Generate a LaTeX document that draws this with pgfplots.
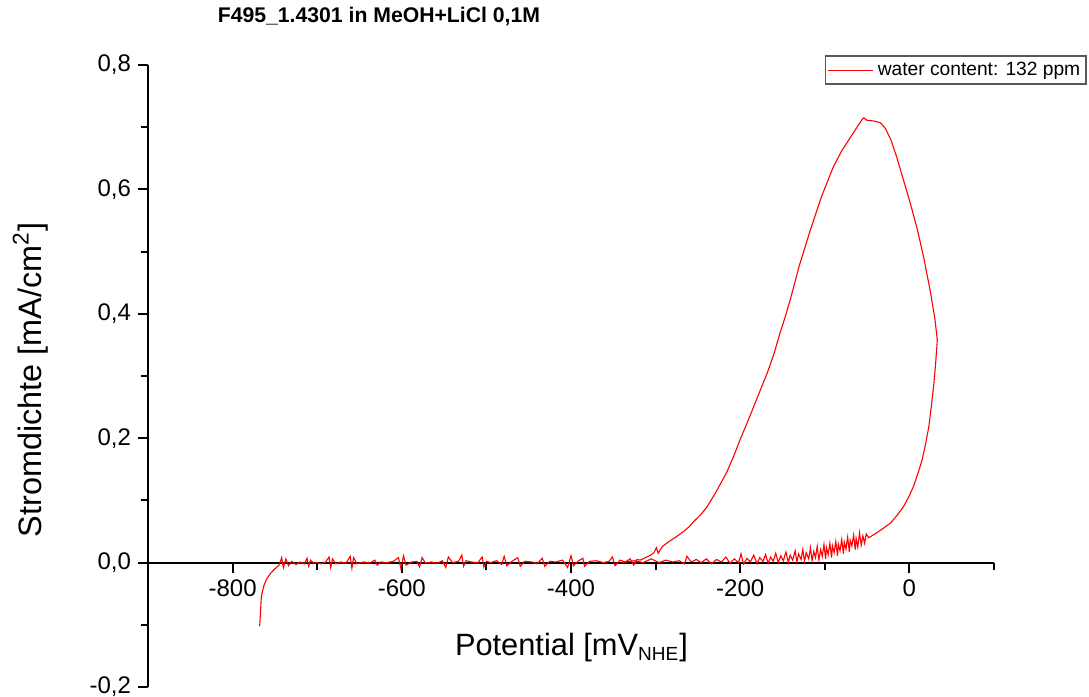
\documentclass[border=0pt]{standalone}
\usepackage{fontspec}
\setmainfont{Liberation Sans}
\usepackage{pgfplots}
\pgfplotsset{compat=1.18}
\pgfplotstableread{
x y
-768 -0.102
-767 -0.080
-766 -0.054
-763 -0.037
-760 -0.027
-755 -0.017
-750 -0.010
-745 -0.004
-742 0.008
-740 -0.008
-737 0.006
-734 -0.005
-730 0.002
-725 -0.003
-720 0.001
-715 -0.002
-712 0.007
-710 -0.006
-708 0.004
-704 -0.001
-700 0.000
-695 -0.002
-690 0.001
-686 0.009
-684 -0.008
-682 0.006
-678 -0.002
-672 0.001
-666 -0.001
-661 0.010
-659 -0.009
-657 0.008
-653 -0.002
-645 0.001
-638 -0.001
-632 0.004
-629 -0.004
-625 0.001
-618 0.000
-610 0.002
-604 0.008
-601 -0.010
-598 0.011
-595 -0.004
-588 0.001
-582 0.002
-579 -0.007
-576 0.008
-572 -0.001
-565 0.001
-558 -0.001
-552 0.003
-548 -0.008
-545 0.009
-540 0.000
-533 0.002
-529 0.012
-527 -0.006
-524 0.003
-518 0.001
-510 0.000
-505 0.009
-503 -0.007
-500 0.002
-495 0.000
-488 0.003
-482 -0.003
-479 0.010
-476 -0.005
-470 0.002
-463 0.008
-460 -0.006
-455 0.002
-446 0.001
-440 -0.002
-434 0.007
-431 -0.006
-425 0.002
-418 0.001
-410 0.004
-404 -0.008
-400 0.011
-397 -0.005
-392 0.002
-386 0.007
-384 -0.006
-378 0.002
-370 0.003
-362 0.000
-355 0.002
-351 0.009
-348 -0.005
-342 0.004
-336 0.001
-330 0.006
-326 -0.004
-322 0.005
-318 0.004
-312 0.008
-306 0.012
-302 0.016
-299 0.024
-297 0.015
-292 0.026
-283 0.035
-275 0.042
-267 0.050
-260 0.058
-255 0.066
-246 0.078
-239 0.090
-228 0.115
-216 0.145
-208 0.170
-200 0.198
-192 0.224
-184 0.251
-176 0.278
-168 0.305
-160 0.336
-153 0.369
-147 0.394
-141 0.422
-130 0.478
-117 0.535
-104 0.588
-90 0.636
-80 0.662
-70 0.683
-62 0.700
-56 0.712
-54 0.715
-50 0.711
-42 0.710
-34 0.707
-28 0.697
-22 0.680
-15 0.652
-7 0.615
1 0.578
9.5 0.535
17 0.490
25 0.434
30 0.393
33 0.358
31 0.320
29 0.289
26 0.252
23 0.219
19 0.190
15 0.165
10 0.143
5 0.123
-1 0.105
-7 0.090
-14 0.077
-22 0.064
-32 0.054
-42 0.045
-48 0.040
-51 0.046
-53 0.031
-55 0.043
-57 0.028
-59 0.048
-61 0.025
-63 0.039
-64 0.021
-66 0.044
-68 0.027
-70 0.036
-71 0.017
-73 0.041
-75 0.022
-77 0.033
-78 0.014
-80 0.037
-82 0.019
-84 0.030
-85 0.011
-87 0.034
-89 0.016
-91 0.027
-92 0.008
-94 0.031
-96 0.013
-98 0.024
-99 0.006
-101 0.029
-103 0.010
-105 0.021
-107 0.004
-109 0.026
-111 0.008
-113 0.018
-115 0.003
-117 0.024
-119 0.006
-122 0.016
-124 0.002
-126 0.021
-128 0.005
-131 0.014
-133 0.001
-135 0.019
-138 0.004
-141 0.012
-143 0.000
-146 0.017
-149 0.003
-152 0.011
-155 0.000
-158 0.015
-161 0.002
-164 0.009
-167 -0.001
-170 0.013
-173 0.002
-177 0.008
-180 -0.002
-184 0.012
-188 0.001
-192 0.007
-196 -0.002
-199 0.014
-202 0.000
-207 0.006
-212 -0.001
-217 0.009
-222 0.001
-228 0.005
-234 -0.002
-240 0.006
-246 0.000
-252 0.005
-258 0.001
-263 0.010
-266 -0.002
-272 0.003
-280 0.001
-288 0.004
-296 0.000
-305 0.006
-315 0.000
-325 0.003
-340 0.000
}\cvdata
\begin{document}
\begin{tikzpicture}
\begin{axis}[
  scale only axis,
  width=423pt, height=311pt,
  xmin=-900, xmax=100, ymin=-0.2, ymax=0.8,
  axis x line*=middle, axis y line*=left,
  hide obscured x ticks=false, hide obscured y ticks=false,
  tick align=outside,
  axis line style={line width=1pt, black},
  every tick/.style={line width=1pt, black},
  major tick length=5pt, minor tick length=3.5pt,
  xtick={-800,-600,-400,-200,0},
  minor xtick={-900,-700,-500,-300,-100,100},
  ytick={-0.2,0,0.2,0.4,0.6,0.8},
  minor ytick={-0.1,0.1,0.3,0.5,0.7},
  /pgf/number format/assume math mode=true,
  tick label style={font=\fontsize{12}{14}\selectfont},
  yticklabel style={/pgf/number format/.cd, fixed, fixed zerofill, precision=1, use comma},
  xticklabel style={/pgf/number format/.cd, fixed, precision=0},
  xlabel={Potential [mV\textsubscript{\fontsize{9.5}{11}\selectfont NHE}]},
  ylabel={Stromdichte [mA/cm\textsuperscript{2}]},
  x label style={at={(axis description cs:0.5005,0.063)}, anchor=center, font=\fontsize{15.4}{17}\selectfont},
  y label style={at={(axis description cs:-0.139,0.4936)}, rotate=0, anchor=center, font=\fontsize{16.2}{18}\selectfont},
  title={F495\_1.4301 in MeOH+LiCl 0,1M},
  title style={at={(axis description cs:0.273,1.058)}, anchor=center, font=\bfseries\fontsize{10.6}{12}\selectfont},
  legend style={at={(axis description cs:1.11,1.016)}, anchor=north east, draw=black!65, line width=0.8pt,
    font=\fontsize{9.6}{11}\selectfont, inner sep=1pt, row sep=0pt},
  legend cell align=left,
  legend image code/.code={\draw[#1, line width=0.5pt] (0cm,0cm) -- (0.8cm,0cm);},
  clip=false,
]
\addplot[red, line width=0.55pt] table[x=x, y=y] {\cvdata};
\addlegendentry{water content: 132 ppm}
\coordinate (bl) at (rel axis cs:0,0);
\end{axis}
\pgfresetboundingbox
\path[use as bounding box] ([shift={(-74pt,-5pt)}]bl) rectangle ([shift={(470.5pt,343.5pt)}]bl);
\end{tikzpicture}
\end{document}
